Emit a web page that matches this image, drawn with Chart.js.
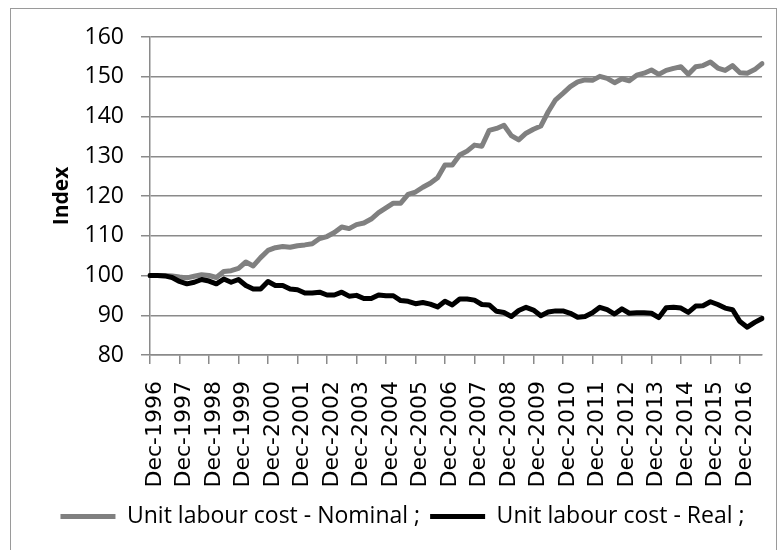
<!DOCTYPE html>
<html>
<head>
<meta charset="utf-8">
<script src="https://cdn.jsdelivr.net/npm/chart.js@4.4.1/dist/chart.umd.min.js"></script>
<style>
  html, body { margin: 0; padding: 0; background: #fff; }
  #wrap { position: relative; width: 784px; height: 550px; }
</style>
</head>
<body>
<div id="wrap"><canvas id="mycanvas" width="784" height="550"></canvas></div>
<script>
// quarterly index, Dec-1996 = 100
var months = ['Dec', 'Mar', 'Jun', 'Sep'];
var startYear = 1996;
var nominal = [
  100, 100, 100, 99.9, 99.6, 99.4, 99.8, 100.2, 100, 99.5,
  101, 101.2, 101.8, 103.4, 102.4, 104.5, 106.3, 107, 107.3, 107.1,
  107.5, 107.7, 108, 109.3, 109.8, 110.8, 112.2, 111.8, 112.8, 113.2,
  114.2, 115.8, 117, 118.2, 118.2, 120.4, 121, 122.2, 123.2, 124.6,
  127.8, 127.8, 130.3, 131.3, 132.8, 132.5, 136.5, 137, 137.8, 135.2,
  134.1, 135.8, 136.8, 137.6, 141.2, 144.2, 145.8, 147.5, 148.7, 149.2,
  149.1, 150.1, 149.6, 148.5, 149.5, 149, 150.4, 150.9, 151.7, 150.6,
  151.6, 152.1, 152.5, 150.6, 152.5, 152.8, 153.7, 152.2, 151.6, 152.8,
  151, 150.9, 151.8, 153.3
];
var real = [
  100, 100, 99.9, 99.5, 98.5, 97.9, 98.3, 99, 98.6, 97.9,
  99.1, 98.3, 99, 97.5, 96.6, 96.6, 98.5, 97.5, 97.5, 96.6,
  96.4, 95.6, 95.6, 95.8, 95.1, 95.1, 95.8, 94.8, 95, 94.2,
  94.2, 95.1, 94.9, 94.9, 93.7, 93.5, 92.9, 93.2, 92.8, 92.1,
  93.5, 92.6, 94.1, 94.1, 93.8, 92.7, 92.6, 91, 90.7, 89.7,
  91.2, 92, 91.3, 89.9, 90.8, 91.1, 91.1, 90.5, 89.5, 89.7,
  90.6, 92, 91.4, 90.3, 91.6, 90.5, 90.6, 90.6, 90.5, 89.4,
  91.9, 92, 91.8, 90.7, 92.3, 92.4, 93.4, 92.7, 91.8, 91.4,
  88.4, 87, 88.2, 89.2
];
var seriesNames = ['Unit labour cost - Nominal ;', 'Unit labour cost - Real ;'];

var labels = [];
for (var i = 0; i < nominal.length; i++) {
  var yr = startYear + Math.ceil(i / 4);
  labels.push(months[i % 4] + '-' + yr);
}

var gridGray = '#8a8a8a';

var framePlugin = {
  id: 'frame',
  beforeDraw: function(chart) {
    var c = chart.ctx;
    c.save();
    c.fillStyle = '#fff';
    c.fillRect(0, 0, chart.width, chart.height);
    c.strokeStyle = '#9a9a9a';
    c.lineWidth = 1;
    c.strokeRect(10.5, 8.5, 766, 700);
    c.restore();
  }
};

var ctx = document.getElementById('mycanvas');
var lineGraph = new Chart(ctx, {
  type: 'line',
  data: {
    labels: labels,
    datasets: [
      {
        label: seriesNames[0],
        data: nominal,
        borderColor: '#808080',
        backgroundColor: '#808080',
        borderWidth: 5,
        pointRadius: 0,
        tension: 0,
        borderJoinStyle: 'round',
        borderCapStyle: 'round',
        pointStyle: 'line',
        order: 1
      },
      {
        label: seriesNames[1],
        data: real,
        borderColor: '#000000',
        backgroundColor: '#000000',
        borderWidth: 5,
        pointRadius: 0,
        tension: 0,
        borderJoinStyle: 'round',
        borderCapStyle: 'round',
        pointStyle: 'line',
        order: 0
      }
    ]
  },
  options: {
    responsive: false,
    animation: false,
    layout: { padding: { left: 40, right: 19, top: 37, bottom: 12 } },
    plugins: {
      tooltip: { enabled: false },
      legend: {
        position: 'bottom',
        labels: {
          usePointStyle: true,
          pointStyleWidth: 55,
          boxHeight: 6,
          padding: 10,
          color: '#000',
          font: { family: 'Open Sans', size: 23 },
          sort: function(a, b) { return a.datasetIndex - b.datasetIndex; }
        }
      }
    },
    scales: {
      x: {
        grid: {
          drawOnChartArea: false,
          drawTicks: true,
          tickLength: 9,
          color: gridGray,
          lineWidth: 1.5
        },
        border: { color: gridGray, width: 1.5 },
        ticks: {
          autoSkip: false,
          maxRotation: 90,
          minRotation: 90,
          padding: 17,
          labelOffset: 5,
          color: '#000',
          font: { family: 'DejaVu Sans', size: 22 },
          callback: function(val, idx) {
            return idx % 4 === 0 ? this.getLabelForValue(val) : null;
          }
        },
        afterFit: function(scale) { scale.height = 140; }
      },
      y: {
        min: 80,
        max: 160,
        ticks: {
          stepSize: 10,
          padding: 17,
          color: '#000',
          font: { family: 'Open Sans', size: 23 }
        },
        grid: {
          color: gridGray,
          lineWidth: 1.5,
          tickLength: 9
        },
        border: { color: gridGray, width: 1.5 },
        title: {
          display: true,
          text: 'Index',
          color: '#000',
          font: { family: 'Open Sans', size: 21, weight: 'bold' },
          padding: { top: 9, bottom: 0 }
        },
        afterFit: function(scale) { scale.width = 110; }
      }
    }
  },
  plugins: [framePlugin]
});
</script>
</body>
</html>
